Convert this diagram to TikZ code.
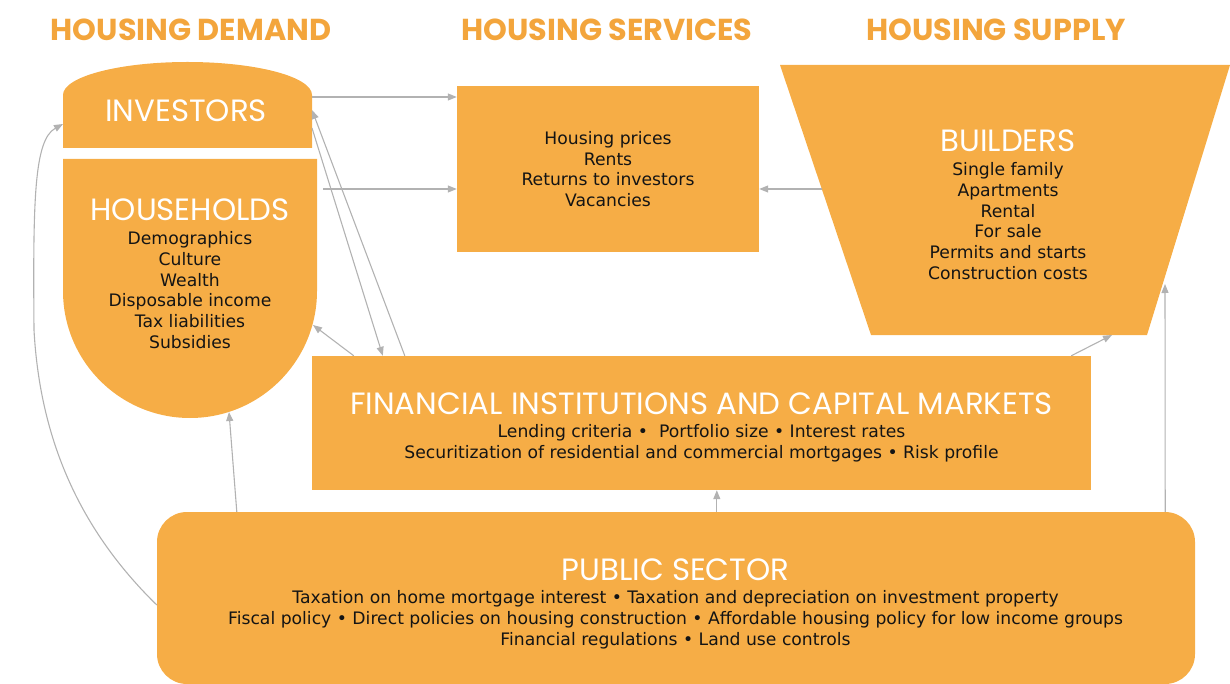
\documentclass[tikz,border=0pt]{standalone}
\usepackage{fontspec}
\usepackage{tikz}
\usetikzlibrary{positioning,calc,arrows.meta}
\newfontfamily\bodyfont{DejaVu Sans}
\newfontfamily\titlefont{Poppins}
\definecolor{boxorange}{RGB}{246,173,70}
\definecolor{headorange}{RGB}{243,165,60}
\definecolor{linkgray}{RGB}{178,178,178}
\definecolor{inktext}{RGB}{20,20,20}
\tikzset{
  box/.style={rectangle, fill=boxorange, inner sep=0pt},
  body/.style={font=\bodyfont\fontsize{17.2}{20.8}\selectfont, text=inktext, align=center, inner sep=0pt},
  bigtitle/.style={font=\titlefont\fontsize{30.8}{32}\selectfont, text=white, inner sep=0pt},
  heading/.style={font=\titlefont\bfseries\fontsize{30.3}{32}\selectfont, text=headorange, inner sep=0pt},
  link/.style={color=linkgray, line width=1.1pt, -{Triangle[length=9pt,width=7pt]}},
}

\begin{document}
\begin{tikzpicture}[x=1pt,y=-1pt]
\useasboundingbox (0,0) rectangle (1230,684);

% column headings
\node[heading] (demand) at (191,30) {HOUSING DEMAND};
\node[heading] (servhead) at (607,30) {HOUSING SERVICES};
\node[heading] (supply) at (996,30) {HOUSING SUPPLY};

% demand side shapes
\fill[boxorange] (63,148) -- (63,95) arc[start angle=180,end angle=360,x radius=124.5,y radius=33] -- (312,148) -- cycle;
\fill[boxorange] (63,159) -- (317,159) -- (317,291) arc[start angle=0,end angle=180,radius=127] -- cycle;
\node[bigtitle] (inv title) at (186,111) {INVESTORS};
\node[body] (hh list) at (190,290) {Demographics\\Culture\\Wealth\\Disposable income\\Tax liabilities\\Subsidies};
\node[bigtitle, above=10pt of hh list] (hh title) {HOUSEHOLDS};

% services
\node[box, body, minimum width=302pt, minimum height=166pt] (services) at (608,169)
  {Housing prices\\Rents\\Returns to investors\\Vacancies};

% supply side
\fill[boxorange] (780,65) -- (1230,65) -- (1147,335) -- (871,335) -- cycle;
\node[body] (bld list) at (1008,221) {Single family\\Apartments\\Rental\\For sale\\Permits and starts\\Construction costs};
\node[bigtitle, above=10pt of bld list] (bld title) {BUILDERS};

% finance
\node[box, minimum width=779pt, minimum height=134pt] (finance) at (701.5,423) {};
\node[body] (fin list) at (701.5,443.5) {Lending criteria •\ \ Portfolio size • Interest rates\\Securitization of residential and commercial mortgages • Risk profile};
\node[bigtitle, above=10pt of fin list] (fin title) {FINANCIAL INSTITUTIONS AND CAPITAL MARKETS};

% public sector
\node[box, minimum width=1038pt, minimum height=172pt, rounded corners=30pt] (public) at (676,598) {};
\node[body] (pub list) at (675.5,620) {Taxation on home mortgage interest • Taxation and depreciation on investment property\\Fiscal policy • Direct policies on housing construction • Affordable housing policy for low income groups\\Financial regulations • Land use controls};
\node[bigtitle, above=10pt of pub list] (pub title) {PUBLIC SECTOR};

% connector ends
\coordinate (inv out) at (312,97);
\coordinate (inv in) at (312,110);
\coordinate (inv low) at (312,128);
\coordinate (inv west) at (63,124);
\coordinate (hh out) at (323,189);
\coordinate (hh in) at (313,325);
\coordinate (hh low) at (229,412);
\coordinate (bld out) at (822,189);
\coordinate (bld in) at (1112,335);
\coordinate (bld east) at (1165,284);
\coordinate (fin a) at ([xshift=71pt]finance.north west);
\coordinate (fin b) at ([xshift=93pt]finance.north west);
\coordinate (fin c) at ([xshift=42pt]finance.north west);
\coordinate (fin d) at ([xshift=-20pt]finance.north east);
\coordinate (pub a) at ([xshift=80pt]public.north west);
\coordinate (pub b) at ([xshift=560pt]public.north west);
\coordinate (pub c) at ([xshift=-30pt]public.north east);
\coordinate (pub w) at ([yshift=-7pt]public.west);

\path[link]
  (inv out) edge (inv out -| services.west)
  (hh out) edge (hh out -| services.west)
  (bld out) edge (bld out -| services.east)
  (inv low) edge (fin a)
  (fin b) edge (inv in)
  (fin c) edge (hh in)
  (pub a) edge (hh low)
  (pub b) edge (pub b |- finance.south)
  (pub c) edge (bld east)
  (fin d) edge (bld in);
\draw[link] (pub w) .. controls (80,530) and (40,440) .. (34,330) .. controls (33,200) and (34,140) .. (inv west);
\end{tikzpicture}
\end{document}
